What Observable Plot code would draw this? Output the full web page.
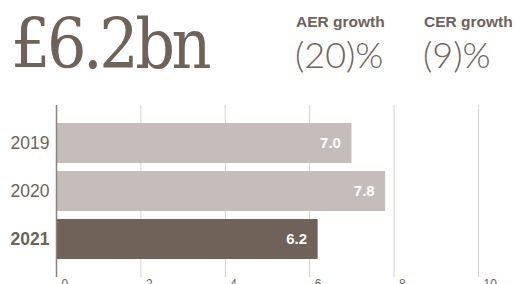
<!DOCTYPE html>
<html><head><meta charset="utf-8">
<script src="https://cdn.jsdelivr.net/npm/d3@7"></script>
<script src="https://cdn.jsdelivr.net/npm/@observablehq/plot@0.6"></script>
<style>
body{margin:0;width:515px;height:284px;overflow:hidden;background:#fff;position:relative;font-family:"Liberation Sans",Arial,sans-serif;color:#6e6259}
#head{position:absolute;left:0;top:0}
#chart{position:absolute;left:0;top:100px}
</style>
</head><body>
<svg id="head" width="515" height="100" xmlns="http://www.w3.org/2000/svg">
  <text x="11" y="68" font-family="DejaVu Serif Condensed, DejaVu Serif" font-size="69" letter-spacing="-3.5" fill="#6e6259">£6.2bn</text>
  <text x="296" y="27" font-family="Liberation Sans, Arial" font-weight="bold" font-size="15.5" fill="#6e6259">AER growth</text>
  <text x="295" y="68" font-family="Lato" font-weight="300" font-size="36" fill="#6e6259">(20)%</text>
  <text x="424" y="27" font-family="Liberation Sans, Arial" font-weight="bold" font-size="15.5" fill="#6e6259">CER growth</text>
  <text x="423" y="68" font-family="Lato" font-weight="300" font-size="36" fill="#6e6259">(9)%</text>
</svg>
<div id="chart"></div>
<script>
const years = ["2019", "2020", "2021"];
const values = [7.0, 7.8, 6.2];
const valueLabels = ["7.0", "7.8", "6.2"];
const xTicks = [0, 2, 4, 6, 8, 10];

const dark = "#6e6259", light = "#c4bdb9";
const data = years.map((y, i) => ({year: y, value: values[i], label: valueLabels[i], current: i === years.length - 1}));

const chart = Plot.plot({
  width: 515,
  height: 200,
  marginLeft: 56,
  marginRight: 37,
  marginTop: 5,
  marginBottom: 23,
  style: {fontFamily: "Liberation Sans, Arial, sans-serif", color: dark, background: "transparent"},
  x: {domain: [0, 10]},
  y: {domain: years, paddingInner: 0.16, paddingOuter: 0.353},
  color: {type: "identity"},
  marks: [
    Plot.ruleX(xTicks.filter(d => d > 0), {stroke: "#d5d0cc", strokeWidth: 1}),
    Plot.barX(data, {y: "year", x: "value", fill: d => d.current ? dark : light}),
    Plot.ruleX([0], {stroke: "#8e837c", strokeWidth: 1.5}),
    Plot.text(data, {y: "year", x: "value", text: "label", textAnchor: "end", dx: -11, fill: "white", fontWeight: "bold", fontSize: 15}),
    Plot.axisX({ticks: xTicks, tickSize: 0, tickPadding: 2, textAnchor: "start", dx: 5, fontSize: 12, label: null, fill: dark}),
    Plot.axisY({ticks: years.slice(0, 2), tickSize: 0, tickPadding: 7, fontSize: 17.5, label: null, fill: dark}),
    Plot.axisY({ticks: years.slice(2), tickSize: 0, tickPadding: 7, fontSize: 17.5, fontWeight: "bold", label: null, fill: dark})
  ]
});
document.getElementById("chart").appendChild(chart);
</script>
</body></html>
